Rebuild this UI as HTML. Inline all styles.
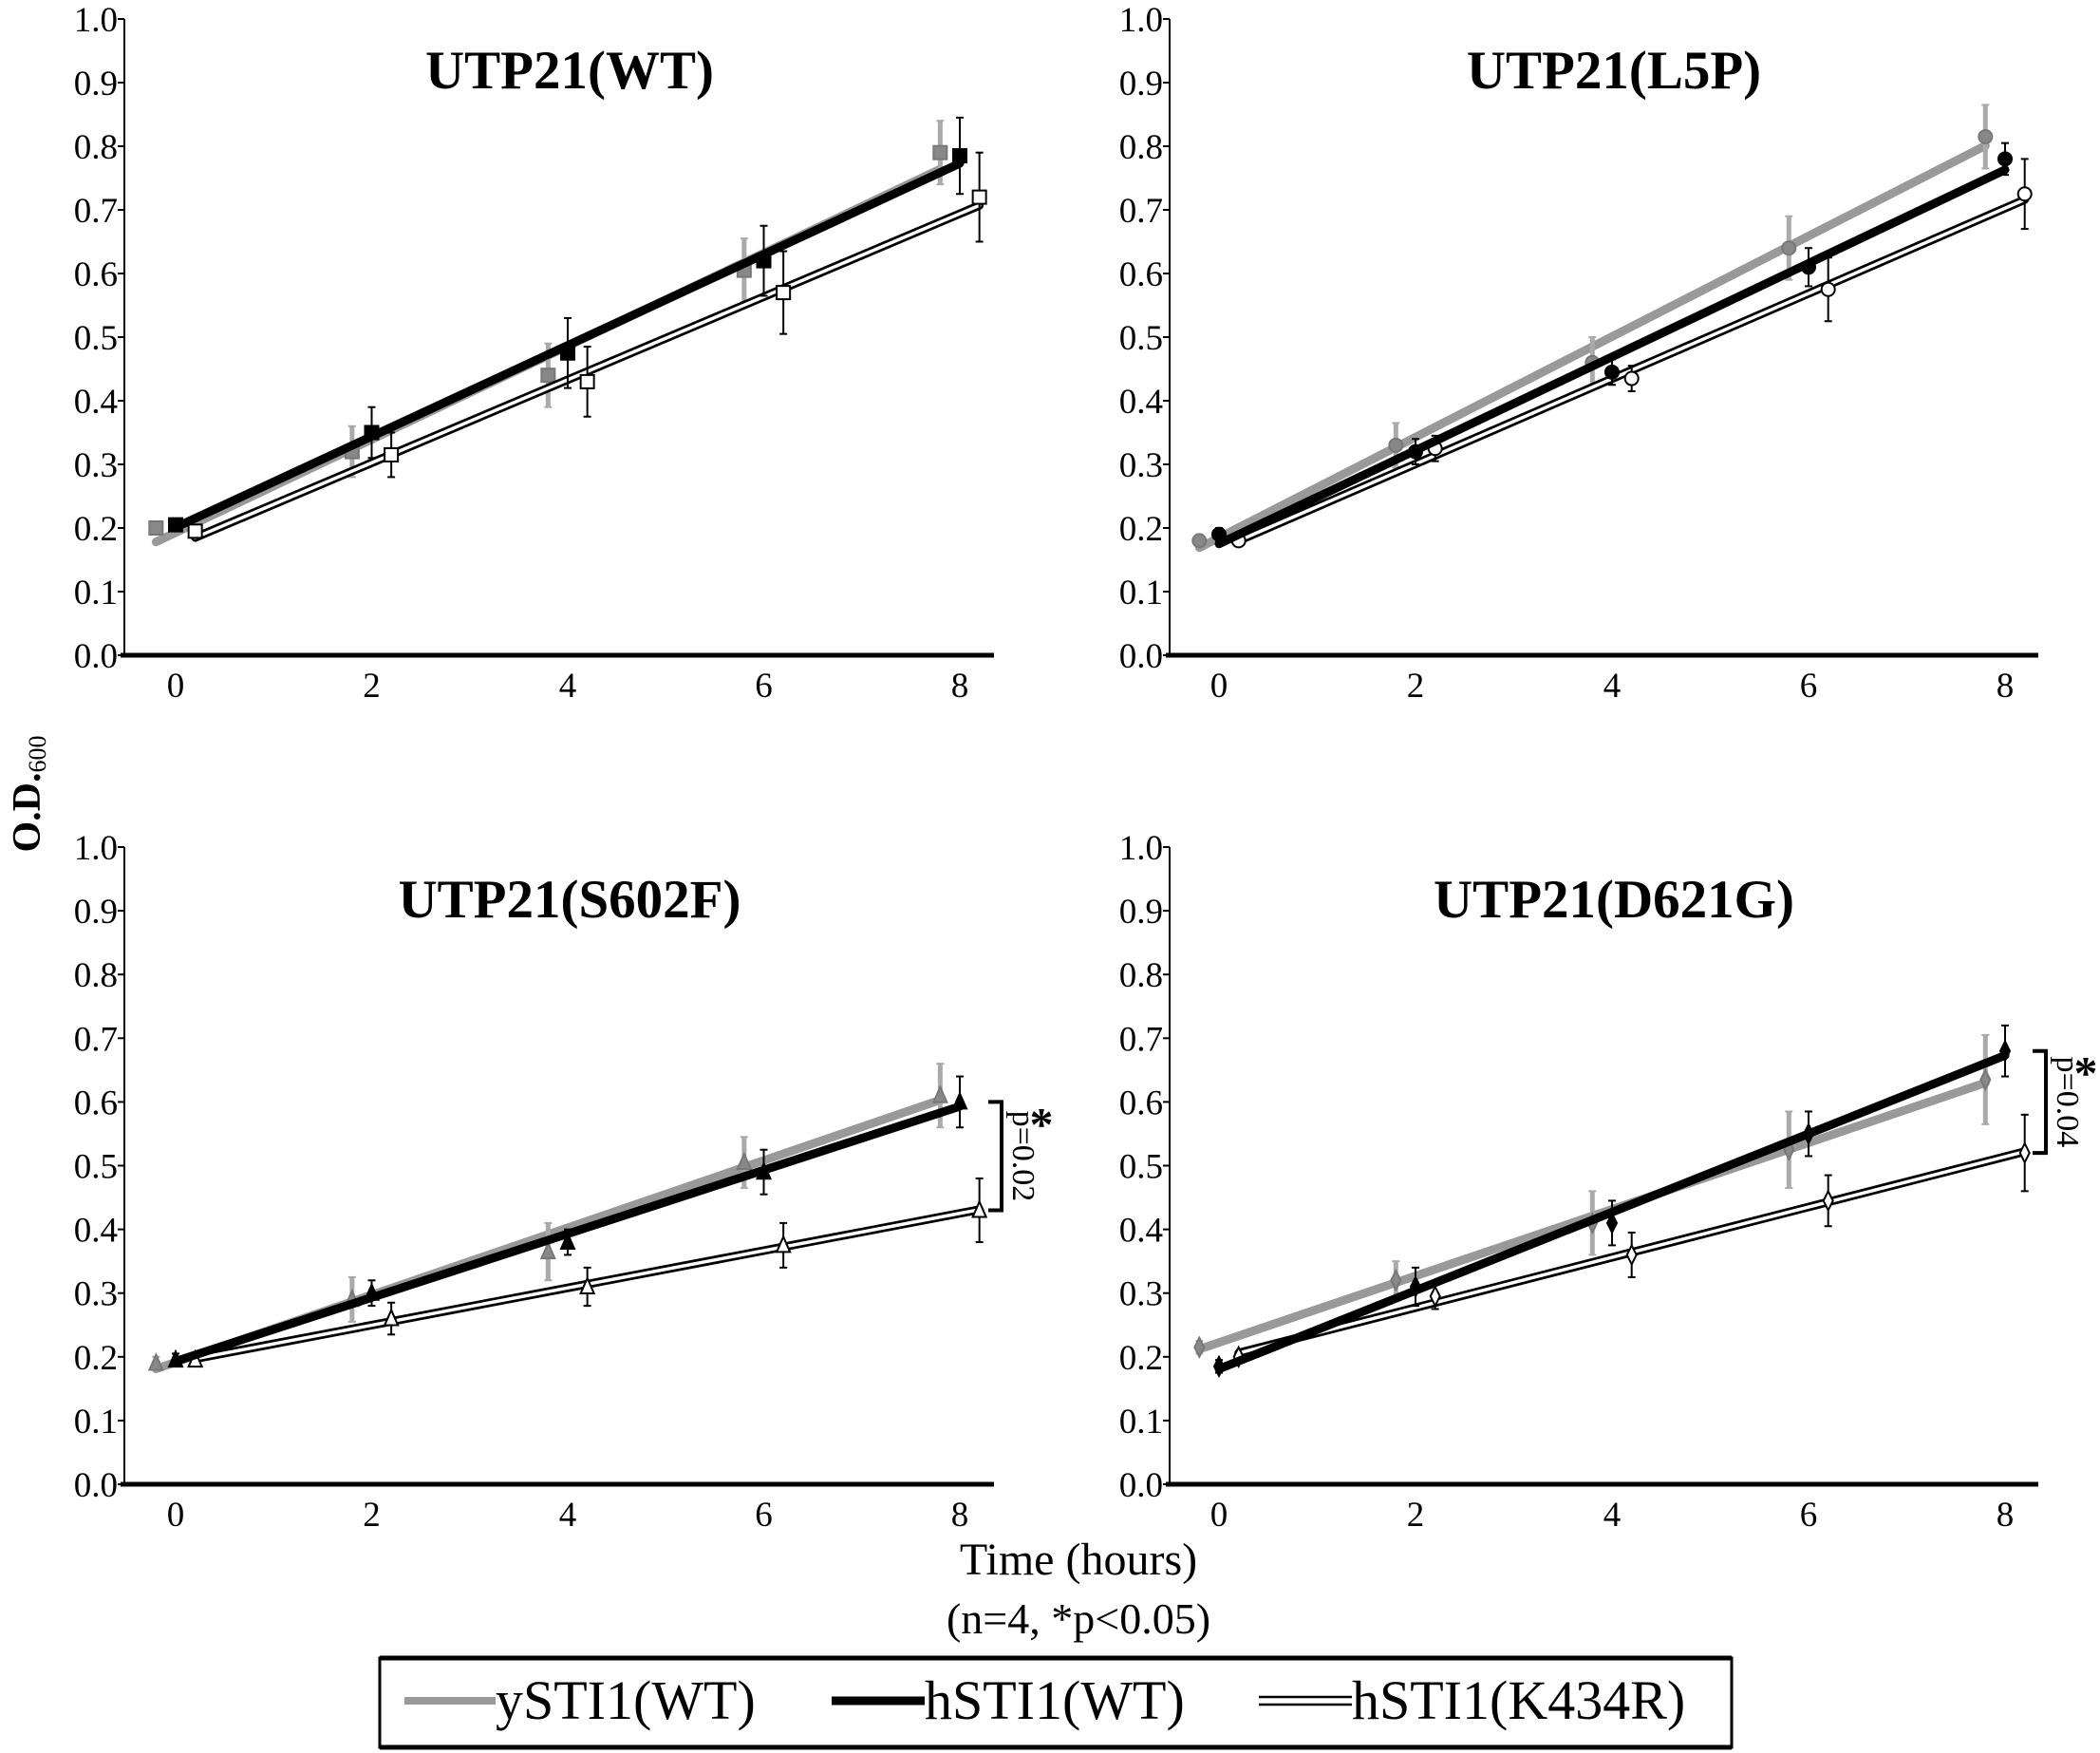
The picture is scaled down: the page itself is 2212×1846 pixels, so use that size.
<!DOCTYPE html>
<html><head><meta charset="utf-8">
<style>
html,body{margin:0;padding:0;background:#fff;}
body{width:2212px;height:1846px;overflow:hidden;position:relative;font-family:"Liberation Serif",serif;}
svg{position:absolute;left:0;top:0;}
</style></head>
<body>
<svg id="fig" width="2212" height="1846" viewBox="0 0 2212 1846" xmlns="http://www.w3.org/2000/svg" font-family="Liberation Serif, serif">
<text transform="translate(42,836) rotate(-90)" text-anchor="middle" font-size="42" font-weight="bold">O.D.<tspan font-size="26" font-weight="normal" dy="6">600</tspan></text>
<text x="1136" y="1658" text-anchor="middle" font-size="48">Time (hours)</text>
<text x="1136" y="1720" text-anchor="middle" font-size="46">(n=4, *p&lt;0.05)</text>
<g>
<rect x="400" y="1746" width="1424" height="94" fill="#fff" stroke="#000" stroke-width="3"/>
<line x1="400" y1="1746" x2="1824" y2="1746" stroke="#000" stroke-width="5"/>
<line x1="400" y1="1840" x2="1824" y2="1840" stroke="#000" stroke-width="5"/>
<g>
<line x1="426" y1="1791" x2="522" y2="1791" stroke="#999" stroke-width="8"/>
<text x="522" y="1810" font-size="58">ySTI1(WT)</text></g>
<g>
<line x1="876" y1="1791" x2="974" y2="1791" stroke="#000" stroke-width="9"/>
<text x="974" y="1810" font-size="58">hSTI1(WT)</text></g>
<g>
<line x1="1326" y1="1787" x2="1424" y2="1787" stroke="#000" stroke-width="2.5"/>
<line x1="1326" y1="1795" x2="1424" y2="1795" stroke="#000" stroke-width="2.5"/>
<text x="1424" y="1810" font-size="58">hSTI1(K434R)</text></g>
</g>
<g id="panels"></g>
</svg>
<script>
const NS="http://www.w3.org/2000/svg";
const times=[0,2,4,6,8];
const yTicks=[0,0.1,0.2,0.3,0.4,0.5,0.6,0.7,0.8,0.9,1.0];
const yTickLabels=["0.0","0.1","0.2","0.3","0.4","0.5","0.6","0.7","0.8","0.9","1.0"];
const panelTitles=["UTP21(WT)","UTP21(L5P)","UTP21(S602F)","UTP21(D621G)"];
const panelMarkers=["square","circle","triangle","diamond"];
// yeast STI1 (WT)
const yWT=[[0.20,0.32,0.44,0.605,0.79],[0.18,0.33,0.46,0.64,0.815],[0.19,0.29,0.365,0.505,0.61],[0.215,0.32,0.41,0.525,0.635]];
const yWTerr=[[0.01,0.04,0.05,0.05,0.05],[0.01,0.035,0.04,0.05,0.05],[0.01,0.035,0.045,0.04,0.05],[0.01,0.03,0.05,0.06,0.07]];
// human STI1 (WT)
const hWT=[[0.205,0.35,0.475,0.62,0.785],[0.19,0.32,0.445,0.61,0.78],[0.195,0.30,0.38,0.49,0.60],[0.185,0.31,0.41,0.55,0.68]];
const hWTerr=[[0.01,0.04,0.055,0.055,0.06],[0.01,0.02,0.02,0.03,0.025],[0.01,0.02,0.02,0.035,0.04],[0.01,0.03,0.035,0.035,0.04]];
// human STI1 (K434R)
const hKR=[[0.195,0.315,0.43,0.57,0.72],[0.18,0.325,0.435,0.575,0.725],[0.195,0.26,0.31,0.375,0.43],[0.20,0.295,0.36,0.445,0.52]];
const hKRerr=[[0.005,0.035,0.055,0.065,0.07],[0.005,0.02,0.02,0.05,0.055],[0.005,0.025,0.03,0.035,0.05],[0.005,0.02,0.035,0.04,0.06]];
const pvals=[null,null,"p=0.02","p=0.04"];

const layouts=[{ax:131,x0:185,x8:1011,end:1047,top:20,bot:690,tx:600,ty:93},
{ax:1232,x0:1284,x8:2112,end:2147,top:20,bot:690,tx:1700,ty:93},
{ax:131,x0:185,x8:1011,end:1047,top:892,bot:1563,tx:600,ty:966},
{ax:1232,x0:1284,x8:2112,end:2147,top:892,bot:1563,tx:1700,ty:966}];
const root=document.getElementById('panels');
function mk(tag,attrs,parent){const e=document.createElementNS(NS,tag);for(const k in attrs)e.setAttribute(k,attrs[k]);parent.appendChild(e);return e;}
function fit(xs,ys){const n=xs.length;let sx=0,sy=0,sxx=0,sxy=0;for(let i=0;i<n;i++){sx+=xs[i];sy+=ys[i];sxx+=xs[i]*xs[i];sxy+=xs[i]*ys[i];}const b=(n*sxy-sx*sy)/(n*sxx-sx*sx);return [(sy-b*sx)/n,b];}
function marker(g,shape,x,y,fill,stroke){
  const s=7;let e;
  if(shape==="square")e=mk('rect',{x:x-s,y:y-s,width:2*s,height:2*s},g);
  else if(shape==="circle")e=mk('circle',{cx:x,cy:y,r:s},g);
  else if(shape==="triangle")e=mk('polygon',{points:`${x},${y-s-2} ${x+s},${y+s} ${x-s},${y+s}`},g);
  else e=mk('polygon',{points:`${x},${y-s-3} ${x+s-2},${y} ${x},${y+s+3} ${x-s+2},${y}`},g);
  e.setAttribute('fill',fill);e.setAttribute('stroke',stroke);e.setAttribute('stroke-width',2);
  return e;
}
layouts.forEach((L,p)=>{
  const X=t=>L.x0+(L.x8-L.x0)*t/8;
  const Y=v=>L.bot-(L.bot-L.top)*v;
  const g=mk('g',{},root);
  
  
  const t=mk('text',{x:L.tx,y:L.ty,'text-anchor':'middle','font-size':57,'font-weight':'bold'},g);
  t.textContent=panelTitles[p];
  
  
  const ya=mk('line',{x1:L.ax,y1:L.top,x2:L.ax,y2:L.bot,stroke:'#000','stroke-width':2},g);
  
  
  const xa=mk('line',{x1:L.ax-4,y1:L.bot,x2:L.end,y2:L.bot,stroke:'#000','stroke-width':5},g);
  
  
  yTicks.forEach((v,i)=>{
    mk('line',{x1:L.ax-7,y1:Y(v),x2:L.ax,y2:Y(v),stroke:'#000','stroke-width':2},g);
    const tl=mk('text',{x:L.ax-7,y:Y(v)+13,'text-anchor':'end','font-size':37},g);
    tl.textContent=yTickLabels[i];
    
    
  });
  times.forEach(tt=>{
    const xl=mk('text',{x:X(tt),y:L.bot+44,'text-anchor':'middle','font-size':37},g);
    xl.textContent=String(tt);
    
    
  });
  const series=[
    {name:'ysti1-wt',d:yWT[p],e:yWTerr[p],off:-0.2,lc:'#999',lw:9,fill:'#888',stroke:'#777',ec:'#aaa',ew:5},
    {name:'hsti1-k434r',d:hKR[p],e:hKRerr[p],off:0.2,lc:'dbl',lw:0,fill:'#fff',stroke:'#000',ec:'#000',ew:2},
    {name:'hsti1-wt',d:hWT[p],e:hWTerr[p],off:0,lc:'#000',lw:9,fill:'#000',stroke:'#000',ec:'#000',ew:2}
  ];
  series.forEach(s=>{
    const sg=mk('g',{},g);
    
    
    const xs=times.map(tt=>tt+s.off);
    const [a,b]=fit(xs,s.d);
    const xa0=xs[0],xa1=xs[xs.length-1];
    if(s.lc==='dbl'){
      const ln=mk('line',{x1:X(xa0),y1:Y(a+b*xa0),x2:X(xa1),y2:Y(a+b*xa1),stroke:'#000','stroke-width':9,'stroke-linecap':'round'},sg);
      
      
      mk('line',{x1:X(xa0),y1:Y(a+b*xa0),x2:X(xa1),y2:Y(a+b*xa1),stroke:'#fff','stroke-width':3.5,'stroke-linecap':'round'},sg);
    } else {
      const ln=mk('line',{x1:X(xa0),y1:Y(a+b*xa0),x2:X(xa1),y2:Y(a+b*xa1),stroke:s.lc,'stroke-width':s.lw,'stroke-linecap':'round'},sg);
      
      
    }
    s.d.forEach((v,i)=>{
      const x=X(xs[i]);
      const eb=mk('line',{x1:x,y1:Y(v-s.e[i]),x2:x,y2:Y(v+s.e[i]),stroke:s.ec,'stroke-width':s.ew},sg);
      
      
      mk('line',{x1:x-4,y1:Y(v-s.e[i]),x2:x+4,y2:Y(v-s.e[i]),stroke:s.ec,'stroke-width':2},sg);
      mk('line',{x1:x-4,y1:Y(v+s.e[i]),x2:x+4,y2:Y(v+s.e[i]),stroke:s.ec,'stroke-width':2},sg);
      const m=marker(sg,panelMarkers[p],x,Y(v),s.fill,s.stroke);
      
      
    });
  });
  if(pvals[p]){
    const hi=hWT[p][4],lo=hKR[p][4];
    const bx=L.end+8;
    const br=mk('path',{d:`M${bx-14},${Y(hi)} H${bx} V${Y(lo)} H${bx-14}`,fill:'none',stroke:'#000','stroke-width':4},g);
    
    
    const mid=(Y(hi)+Y(lo))/2;
    const pt=mk('text',{transform:`translate(${bx+12},${mid}) rotate(90)`,'text-anchor':'middle','font-size':34},g);
    pt.textContent=pvals[p];
    
    
    const st=mk('text',{x:bx+42,y:Y(hi)+40,'text-anchor':'middle','font-size':50,'font-weight':'bold'},g);
    st.textContent='*';
    
    
  }
});
</script>
</body></html>
